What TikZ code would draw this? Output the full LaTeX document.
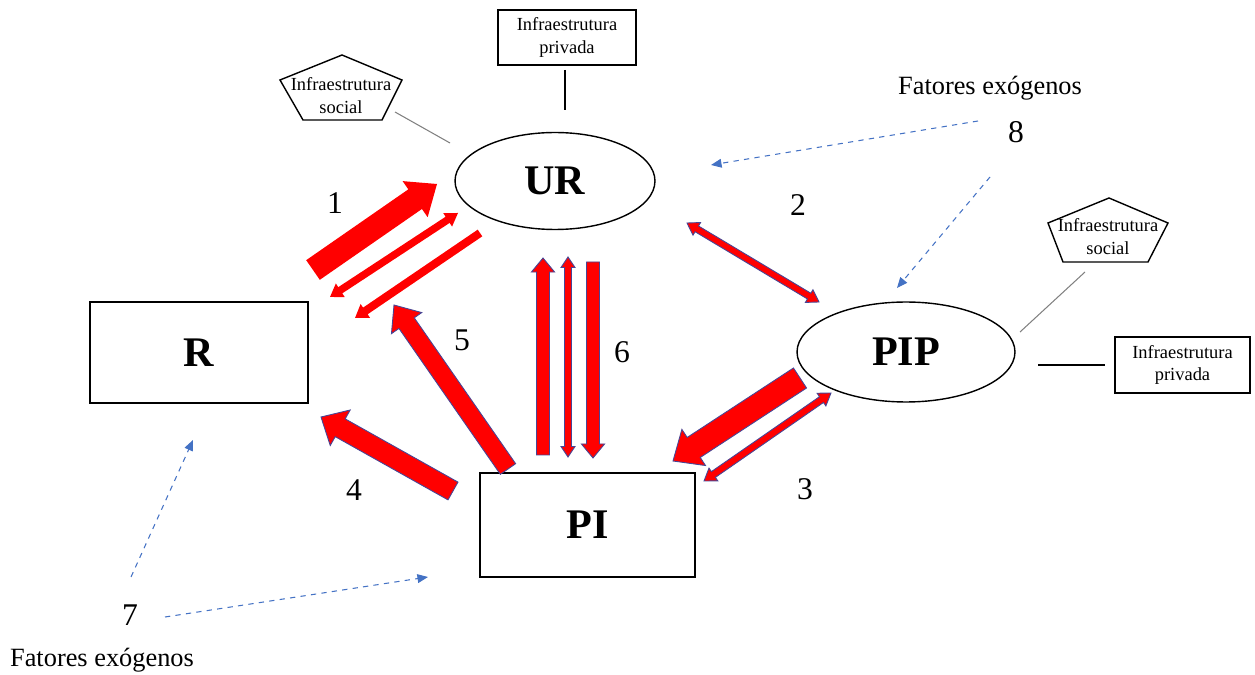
\documentclass[tikz,border=0pt]{standalone}
\usepackage{fontspec}
\setmainfont{Liberation Serif}
\usetikzlibrary{calc,arrows.meta,shapes.geometric}
\definecolor{dashblue}{RGB}{68,114,196}
\definecolor{edgeblue}{RGB}{70,70,150}
\tikzset{
  box/.style={draw, line width=0.8pt, rectangle, inner sep=0pt},
  oval/.style={draw, line width=0.8pt, ellipse, inner sep=0pt},
  bigtxt/.style={font=\fontsize{24}{28}\selectfont\bfseries},
  smalltxt/.style={font=\fontsize{10.5}{13}\selectfont, align=center},
  numtxt/.style={font=\fontsize{18}{20}\selectfont},
  exotxt/.style={font=\fontsize{15}{18}\selectfont},
  exo/.style={dashblue, dashed, line width=0.6pt, -{Triangle[length=6pt,width=5pt]}},
  redA/.style={fill=red},
  redB/.style={fill=red, draw=edgeblue, line width=0.5pt, line join=miter},
  link/.style={line width=0.6pt},
  glink/.style={line width=0.6pt, gray},
}
% single-headed block arrow: style, from, to, half shaft, half head, head length (pt)
\newcommand\sarrow[6]{%
\path[#1] let \p1=(#2), \p2=(#3), \n1={atan2(\y2-\y1,\x2-\x1)}, \n2={veclen(\x2-\x1,\y2-\y1)-#6} in
 ($(#2)+(\n1+90:#4pt)$) -- ($(#2)+(\n1:\n2)+(\n1+90:#4pt)$) -- ($(#2)+(\n1:\n2)+(\n1+90:#5pt)$) -- (#3)
 -- ($(#2)+(\n1:\n2)+(\n1-90:#5pt)$) -- ($(#2)+(\n1:\n2)+(\n1-90:#4pt)$) -- ($(#2)+(\n1-90:#4pt)$) -- cycle;}
% double-headed block arrow
\newcommand\darrow[6]{%
\path[#1] let \p1=(#2), \p2=(#3), \n1={atan2(\y2-\y1,\x2-\x1)}, \n2={veclen(\x2-\x1,\y2-\y1)-#6} in
 (#2) -- ($(#2)+(\n1:#6pt)+(\n1+90:#5pt)$) -- ($(#2)+(\n1:#6pt)+(\n1+90:#4pt)$) -- ($(#2)+(\n1:\n2)+(\n1+90:#4pt)$)
 -- ($(#2)+(\n1:\n2)+(\n1+90:#5pt)$) -- (#3) -- ($(#2)+(\n1:\n2)+(\n1-90:#5pt)$) -- ($(#2)+(\n1:\n2)+(\n1-90:#4pt)$)
 -- ($(#2)+(\n1:#6pt)+(\n1-90:#4pt)$) -- ($(#2)+(\n1:#6pt)+(\n1-90:#5pt)$) -- cycle;}
\begin{document}
\begin{tikzpicture}[x=0.02cm,y=-0.02cm]
\useasboundingbox (0,0) rectangle (1255,675);
% main nodes
\node[oval, bigtxt, minimum width=4cm, minimum height=1.94cm] (UR) at (555,181) {UR};
\node[oval, bigtxt, minimum width=4.36cm, minimum height=2cm] (PIP) at (906,352) {PIP};
\node[box, bigtxt, minimum width=4.36cm, minimum height=2.02cm] (R) at (199,352.5) {R};
\node[box, bigtxt, minimum width=4.3cm, minimum height=2.08cm] (PI) at (587.5,525) {PI};
% infrastructure boxes
\node[box, smalltxt, minimum width=2.76cm, minimum height=1.1cm] (privA) at (567,37.5) {Infraestrutura\\privada};
\node[box, smalltxt, minimum width=2.7cm, minimum height=1.12cm] (privB) at (1182.5,365) {Infraestrutura\\privada};
% pentagons
\draw[line width=0.8pt] (342,55) -- (402,80) -- (382,120) -- (303,120) -- (280,80) -- cycle;
\node[smalltxt] (socA) at (341,96) {Infraestrutura\\social};
\draw[line width=0.8pt] (1109,198) -- (1168,223) -- (1148,262) -- (1063,262) -- (1048,223) -- cycle;
\node[smalltxt] (socB) at (1108,237) {Infraestrutura\\social};
% connector lines
\coordinate (pa1) at (565,70); \coordinate (pa2) at (565,110);
\draw[link] (pa1) -- (pa2);
\coordinate (sa1) at (395,112); \coordinate (sa2) at (450,143);
\draw[glink] (sa1) -- (sa2);
\coordinate (sb1) at (1085,272); \coordinate (sb2) at (1020,332);
\draw[glink] (sb1) -- (sb2);
\coordinate (pb1) at (1038,365); \coordinate (pb2) at (1105,365);
\draw[link] (pb1) -- (pb2);
% numbers
\node[numtxt] (n1) at (335,203) {1};
\node[numtxt] (n2) at (798,205) {2};
\node[numtxt] (n3) at (805,489) {3};
\node[numtxt] (n4) at (354,490) {4};
\node[numtxt] (n5) at (462,340) {5};
\node[numtxt] (n6) at (622,352) {6};
\node[numtxt] (n7) at (130,615) {7};
\node[numtxt] (n8) at (1016,132) {8};
\node[exotxt] (exoT) at (990,88) {Fatores exógenos};
\node[exotxt] (exoB) at (102,660) {Fatores exógenos};
% exogenous dashed arrows
\coordinate (e8a) at (978,121); \coordinate (e8b) at (711,165);
\coordinate (e8c) at (990,177); \coordinate (e8d) at (897,288);
\coordinate (e7a) at (131,577); \coordinate (e7b) at (193,440);
\coordinate (e7c) at (165,617); \coordinate (e7d) at (428,577);
\draw[exo] (e8a) -- (e8b);
\draw[exo] (e8c) -- (e8d);
\draw[exo] (e7a) -- (e7b);
\draw[exo] (e7c) -- (e7d);
% red arrows: group 1 (R <-> UR)
\coordinate (a1s) at (313,270); \coordinate (a1e) at (437,184);
\sarrow{redA}{a1s}{a1e}{6.8}{12.5}{15}
\coordinate (b1s) at (330,297); \coordinate (b1e) at (458,213);
\darrow{redA}{b1s}{b1e}{2.1}{4.6}{7}
\coordinate (c1s) at (480,233); \coordinate (c1e) at (355,318);
\sarrow{redA}{c1s}{c1e}{2.3}{4.8}{7}
% group 2 (UR <-> PIP)
\coordinate (a2s) at (687,223); \coordinate (a2e) at (819,302);
\darrow{redB}{a2s}{a2e}{1.9}{4.2}{6.5}
% group 3 (PIP <-> PI)
\coordinate (a3s) at (800,378); \coordinate (a3e) at (673,461);
\sarrow{redB}{a3s}{a3e}{6.8}{12.3}{14}
\coordinate (b3s) at (704,481); \coordinate (b3e) at (831,393);
\darrow{redB}{b3s}{b3e}{2}{4.4}{6.5}
% group 4 (PI -> R)
\coordinate (a4s) at (453,491); \coordinate (a4e) at (321,417);
\sarrow{redB}{a4s}{a4e}{5.8}{11.6}{12.5}
% group 5 (PI -> R/UR side)
\coordinate (a5s) at (508,469); \coordinate (a5e) at (394,305);
\sarrow{redB}{a5s}{a5e}{5.3}{10.5}{12.5}
% group 6 (PI <-> UR)
\coordinate (a6s) at (543,455); \coordinate (a6e) at (543,258);
\sarrow{redB}{a6s}{a6e}{3.7}{6.6}{8}
\coordinate (b6s) at (568,257); \coordinate (b6e) at (568,457);
\darrow{redB}{b6s}{b6e}{2}{4}{6}
\coordinate (c6s) at (593,262); \coordinate (c6e) at (593,458);
\sarrow{redB}{c6s}{c6e}{3.7}{6.6}{8}
\end{tikzpicture}
\end{document}
